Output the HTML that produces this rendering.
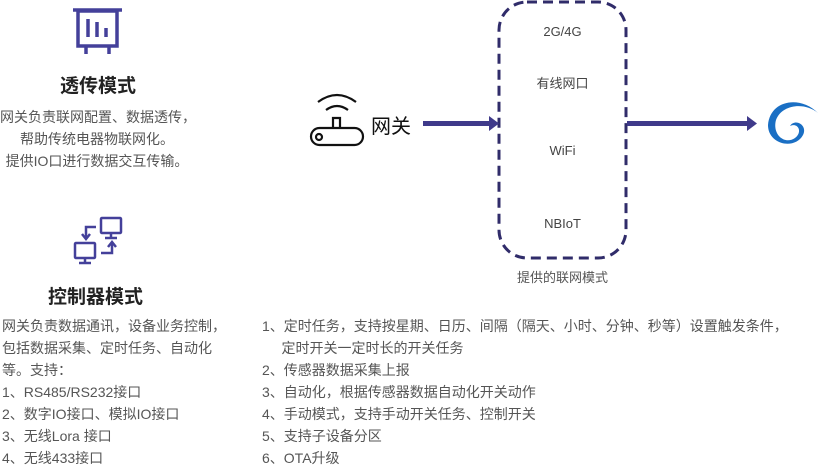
<!DOCTYPE html>
<html><head><meta charset="utf-8"><style>
body{margin:0;width:825px;height:466px;background:#fff;position:relative;overflow:hidden;font-family:"Liberation Sans","Noto Sans CJK SC",sans-serif;}
.t{position:absolute;white-space:nowrap;color:#555;font-size:14px;line-height:22px;}
.h{position:absolute;white-space:nowrap;color:#222;font-size:19px;font-weight:bold;}
.c{position:absolute;white-space:nowrap;color:#444;font-size:13px;text-align:center;}
</style></head><body>
<svg width="825" height="466" style="position:absolute;left:0;top:0">
 <g stroke="#44409a" fill="none" stroke-width="3.5">
  <line x1="73" y1="10" x2="122" y2="10"/>
  <rect x="78" y="11" width="39" height="35"/>
  <line x1="86" y1="46" x2="86" y2="54"/><line x1="109" y1="46" x2="109" y2="54"/>
  <line x1="88" y1="19" x2="88" y2="37"/><line x1="97" y1="22" x2="97" y2="37"/><line x1="106" y1="28" x2="106" y2="37"/>
 </g>
 <g stroke="#44409a" fill="none" stroke-width="2.5">
  <rect x="101" y="218" width="20" height="15" rx="1"/>
  <line x1="111" y1="233" x2="111" y2="238"/><line x1="105" y1="238" x2="117" y2="238"/>
  <rect x="75" y="243" width="20" height="15" rx="1"/>
  <line x1="85" y1="258" x2="85" y2="263"/><line x1="79" y1="263" x2="91" y2="263"/>
  <polyline points="96,227 86,227 86,238"/><polyline points="82,234 86,239 90,234"/>
  <polyline points="101,253 112,253 112,244"/><polyline points="108,247 112,242 116,247"/>
 </g>
 <g stroke="#111" fill="none" stroke-width="2.2">
  <path d="M318 102 Q337 88 356 102"/>
  <path d="M326 110 Q337 102 348 110"/>
  <path d="M333 128 V118 H340 V128"/>
  <rect x="311" y="128" width="52" height="17" rx="8.5"/>
  <circle cx="319" cy="137" r="3"/>
 </g>
 <rect x="499" y="2" width="127" height="256" rx="28" fill="none" stroke="#302c6a" stroke-width="3" stroke-dasharray="10,6"/>
 <g fill="#3f3a8a">
  <rect x="423" y="121" width="68" height="5"/><polygon points="489,116 499,123.5 489,131"/>
  <rect x="627" y="121" width="122" height="5"/><polygon points="747,116 757,123.5 747,131"/>
 </g>
 <path d="M818 113 C 800 95, 770 100, 768 125 C 768 145, 795 150, 803 135 C 808 125, 795 118, 790 126 C 798 122, 803 132, 795 138 C 785 145, 772 135, 776 120 C 782 104, 805 102, 818 113 Z" fill="#1a6fc4"/>
</svg>
<div class="h" style="left:60px;top:71px">透传模式</div>
<div class="t" style="left:0;width:194px;top:106px;text-align:center">网关负责联网配置、数据透传，<br>帮助传统电器物联网化。<br>提供IO口进行数据交互传输。</div>
<div class="h" style="left:48px;top:282px">控制器模式</div>
<div class="t" style="left:2px;top:315px">网关负责数据通讯，设备业务控制，<br>包括数据采集、定时任务、自动化<br>等。支持：<br>1、RS485/RS232接口<br>2、数字IO接口、模拟IO接口<br>3、无线Lora 接口<br>4、无线433接口</div>
<div class="t" style="left:262px;top:315px">1、定时任务，支持按星期、日历、间隔（隔天、小时、分钟、秒等）设置触发条件，<br>&nbsp;&nbsp;&nbsp;&nbsp;&nbsp;定时开关一定时长的开关任务<br>2、传感器数据采集上报<br>3、自动化，根据传感器数据自动化开关动作<br>4、手动模式，支持手动开关任务、控制开关<br>5、支持子设备分区<br>6、OTA升级</div>
<div style="position:absolute;left:371px;top:110px;font-size:20px;color:#111">网关</div>
<div class="c" style="left:499px;width:127px;top:24px">2G/4G</div>
<div class="c" style="left:499px;width:127px;top:73px">有线网口</div>
<div class="c" style="left:499px;width:127px;top:143px">WiFi</div>
<div class="c" style="left:499px;width:127px;top:216px">NBIoT</div>
<div class="c" style="left:499px;width:127px;top:267px;color:#555">提供的联网模式</div>
</body></html>
